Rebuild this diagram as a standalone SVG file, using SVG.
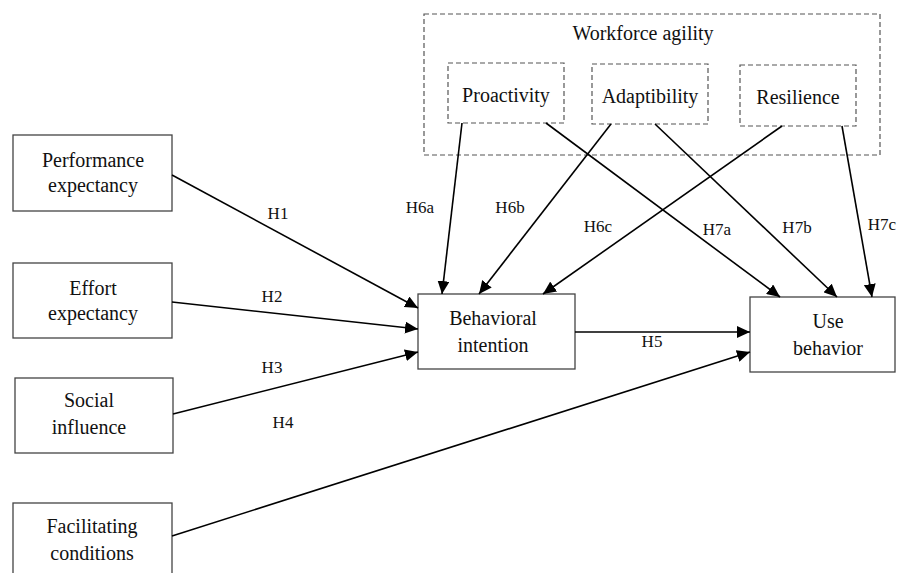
<svg xmlns="http://www.w3.org/2000/svg" width="897" height="573" viewBox="0 0 897 573">
<style>
.box{fill:#fff;stroke:#444;stroke-width:1.3}
.dbox{fill:none;stroke:#555;stroke-width:1.2;stroke-dasharray:5,3}
.t{font-family:'Liberation Serif','DejaVu Serif',serif;font-size:20px;fill:#111;text-anchor:middle}
.lb{font-family:'Liberation Serif','DejaVu Serif',serif;font-size:17px;fill:#111;text-anchor:middle}
.c{stroke:#000;stroke-width:1.6;fill:none;marker-end:url(#ah)}
</style>
<defs>
<marker id="ah" markerUnits="userSpaceOnUse" markerWidth="14" markerHeight="12" refX="13" refY="6" orient="auto">
<path d="M0,0 L13,6 L0,12 Z" fill="#000"/>
</marker>
</defs>
<rect width="897" height="573" fill="#fff"/>
<g id="workforce-agility">
<rect class="dbox" x="424" y="14" width="456" height="141"/>
<text class="t" x="643" y="40">Workforce agility</text>
</g>
<g id="proactivity">
<rect class="dbox" x="448" y="63" width="116" height="60"/>
<text class="t" x="506" y="102">Proactivity</text>
</g>
<g id="adaptibility">
<rect class="dbox" x="592" y="64" width="116" height="60"/>
<text class="t" x="650" y="103">Adaptibility</text>
</g>
<g id="resilience">
<rect class="dbox" x="740" y="65" width="116" height="61"/>
<text class="t" x="798" y="104">Resilience</text>
</g>
<g id="performance-expectancy">
<rect class="box" x="13" y="135" width="159" height="76"/>
<text class="t" x="93" y="167">Performance</text>
<text class="t" x="93" y="192">expectancy</text>
</g>
<g id="effort-expectancy">
<rect class="box" x="13" y="263" width="159" height="75"/>
<text class="t" x="93" y="295">Effort</text>
<text class="t" x="93" y="320">expectancy</text>
</g>
<g id="social-influence">
<rect class="box" x="15" y="378" width="158" height="75"/>
<text class="t" x="89" y="407">Social</text>
<text class="t" x="89" y="434">influence</text>
</g>
<g id="facilitating-conditions">
<rect class="box" x="13" y="503" width="159" height="80"/>
<text class="t" x="92" y="533">Facilitating</text>
<text class="t" x="92" y="560">conditions</text>
</g>
<g id="behavioral-intention">
<rect class="box" x="418" y="294" width="157" height="75"/>
<text class="t" x="493" y="325">Behavioral</text>
<text class="t" x="493" y="352">intention</text>
</g>
<g id="use-behavior">
<rect class="box" x="750" y="297" width="145" height="75"/>
<text class="t" x="828" y="328">Use</text>
<text class="t" x="828" y="355">behavior</text>
</g>
<g id="connectors">
<line class="c" x1="172" y1="175" x2="418" y2="308"/>
<line class="c" x1="172" y1="302" x2="418" y2="329"/>
<line class="c" x1="173" y1="414" x2="418" y2="352"/>
<line class="c" x1="172" y1="536" x2="750" y2="352"/>
<line class="c" x1="575" y1="332" x2="750" y2="332"/>
<line class="c" x1="462" y1="123" x2="442" y2="294"/>
<line class="c" x1="611" y1="124" x2="479" y2="294"/>
<line class="c" x1="782" y1="126" x2="543" y2="294"/>
<line class="c" x1="546" y1="123" x2="780" y2="297"/>
<line class="c" x1="655" y1="124" x2="837" y2="297"/>
<line class="c" x1="842" y1="126" x2="872" y2="297"/>
<text class="lb" x="278" y="219">H1</text>
<text class="lb" x="272" y="302">H2</text>
<text class="lb" x="272" y="373">H3</text>
<text class="lb" x="283" y="428">H4</text>
<text class="lb" x="652" y="347">H5</text>
<text class="lb" x="420" y="213">H6a</text>
<text class="lb" x="510" y="213">H6b</text>
<text class="lb" x="598" y="232">H6c</text>
<text class="lb" x="717" y="235">H7a</text>
<text class="lb" x="797" y="233">H7b</text>
<text class="lb" x="882" y="230">H7c</text>
</g>
</svg>
